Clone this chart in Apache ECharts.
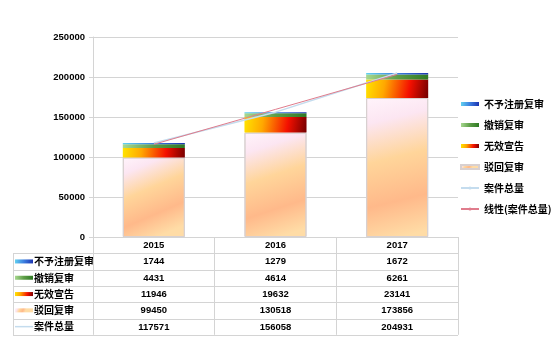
<!DOCTYPE html>
<html>
<head>
<meta charset="utf-8">
<script src="https://cdn.jsdelivr.net/npm/echarts@6/dist/echarts.min.js"></script>
<style>
html, body { margin: 0; padding: 0; background: #ffffff; }
#chart { width: 558px; height: 349px; }
</style>
</head>
<body>
<div id="chart"></div>
<script>
// Trademark review cases by year
const years = ['2015', '2016', '2017'];
const refusalReview = [1744, 1279, 1672];        // 不予注册复审
const revocationReview = [4431, 4614, 6261];     // 撤销复审
const invalidation = [11946, 19632, 23141];      // 无效宣告
const rejectionReview = [99450, 130518, 173856]; // 驳回复审
const totalCases = [117571, 156058, 204931];     // 案件总量
const totalTrend = [115840, 159520, 203200];     // 线性(案件总量)
const yTicks = { min: 0, max: 250000, interval: 50000 };

const names = ['不予注册复审', '撤销复审', '无效宣告', '驳回复审', '案件总量', '线性(案件总量)'];

const G = echarts.graphic.LinearGradient;
const fills = {
  refusal: new G(0, 0, 1, 0.4, [
    { offset: 0, color: '#62d2f0' }, { offset: 0.5, color: '#3c7ee0' }, { offset: 1, color: '#1c34b0' }
  ]),
  revocation: new G(0, 0, 1, 0.4, [
    { offset: 0, color: '#a8d890' }, { offset: 0.5, color: '#5e9e48' }, { offset: 1, color: '#2f7a24' }
  ]),
  invalid: new G(0, 0, 1, 0.6, [
    { offset: 0, color: '#ffe400' }, { offset: 0.3, color: '#ffa800' },
    { offset: 0.7, color: '#f41000' }, { offset: 1, color: '#7a0000' }
  ]),
  rejection: new G(0, 0, 0.55, 1, [
    { offset: 0, color: '#fff4fb' }, { offset: 0.18, color: '#fce6f2' },
    { offset: 0.45, color: '#ffd59a' }, { offset: 0.75, color: '#ffb98a' }, { offset: 1, color: '#ffdca6' }
  ])
};
const totalColor = '#c4dcee';
const trendColor = '#e07c8c';

const tableRows = [refusalReview, revocationReview, invalidation, rejectionReview, totalCases];
const rowFills = [fills.refusal, fills.revocation, fills.invalid, fills.rejection, null];

const GRID = { left: 93, right: 100, top: 37, bottom: 112 };
const ROW_H = 16.3;
const numFont = { fontFamily: 'Liberation Sans, Arial, sans-serif', fontWeight: 'bold', fontSize: 9.5, color: '#000' };
const cjkFont = 'Noto Sans CJK SC, sans-serif';
const lineGray = '#d4d4d4';

// Header axis (years) plus one label-only axis per table row
const xAxes = [{
  type: 'category',
  data: years,
  axisLine: { show: true, lineStyle: { color: lineGray } },
  axisTick: { show: true, length: ROW_H * 6, lineStyle: { color: lineGray } },
  axisLabel: Object.assign({ margin: 3, lineHeight: 11 }, numFont),
  splitLine: { show: false }
}];
tableRows.forEach((vals, k) => {
  xAxes.push({
    type: 'category',
    data: years,
    position: 'bottom',
    offset: ROW_H * (k + 1),
    axisLine: { show: false },
    axisTick: { show: false },
    axisLabel: Object.assign({ margin: 3, lineHeight: 11, formatter: (v, i) => String(vals[i]) }, numFont)
  });
});

const barBase = { type: 'bar', stack: 'cases', barWidth: '51%', xAxisIndex: 0, z: 2 };

const option = {
  animation: false,
  backgroundColor: '#ffffff',
  grid: GRID,
  legend: {
    orient: 'vertical',
    left: 460,
    top: 97,
    padding: 0,
    itemWidth: 18,
    itemHeight: 4,
    itemGap: 7,
    textStyle: { fontFamily: cjkFont, fontWeight: 'bold', fontSize: 10, color: '#000', lineHeight: 14 },
    data: [
      { name: names[0], icon: 'rect' },
      { name: names[1], icon: 'rect' },
      { name: names[2], icon: 'rect' },
      { name: names[3], icon: 'rect' },
      { name: names[4] },
      { name: names[5] }
    ]
  },
  xAxis: xAxes,
  yAxis: {
    type: 'value',
    min: yTicks.min,
    max: yTicks.max,
    interval: yTicks.interval,
    axisLine: { show: true, lineStyle: { color: lineGray } },
    axisTick: { show: true, length: 4, lineStyle: { color: lineGray } },
    axisLabel: Object.assign({ margin: 8, formatter: (v) => String(v) }, numFont),
    splitLine: { show: true, lineStyle: { color: lineGray, width: 1 } }
  },
  series: [
    Object.assign({ name: names[3], data: rejectionReview,
      itemStyle: { color: fills.rejection, borderColor: '#d8d0d0', borderWidth: 1 } }, barBase),
    Object.assign({ name: names[2], data: invalidation, itemStyle: { color: fills.invalid } }, barBase),
    Object.assign({ name: names[1], data: revocationReview, itemStyle: { color: fills.revocation } }, barBase),
    Object.assign({ name: names[0], data: refusalReview, itemStyle: { color: fills.refusal } }, barBase),
    {
      name: names[4], type: 'line', data: totalCases, xAxisIndex: 0,
      symbol: 'none', z: 3,
      lineStyle: { color: totalColor, width: 1.5 }, itemStyle: { color: totalColor }
    },
    {
      name: names[5], type: 'line', data: totalTrend, xAxisIndex: 0,
      symbol: 'none', z: 4,
      lineStyle: { color: trendColor, width: 1 }, itemStyle: { color: trendColor }
    }
  ]
};

const chart = echarts.init(document.getElementById('chart'), null, { renderer: 'canvas' });
chart.setOption(option);

// Data table frame and row headings
const baseY = chart.convertToPixel({ yAxisIndex: 0 }, 0);
const rightX = 558 - GRID.right;
const tableLeft = 13;
const elements = [];
for (let k = 1; k <= 6; k++) {
  const y = Math.round(baseY + ROW_H * k) + 0.5;
  elements.push({ type: 'line', shape: { x1: tableLeft, y1: y, x2: rightX, y2: y },
    style: { stroke: lineGray, lineWidth: 1 }, silent: true });
}
elements.push({ type: 'line', shape: { x1: tableLeft + 0.5, y1: Math.round(baseY + ROW_H) + 0.5, x2: tableLeft + 0.5, y2: Math.round(baseY + ROW_H * 6) + 0.5 },
  style: { stroke: lineGray, lineWidth: 1 }, silent: true });
tableRows.forEach((vals, k) => {
  const cy = baseY + ROW_H * (k + 1.5);
  if (rowFills[k]) {
    elements.push({ type: 'rect', shape: { x: tableLeft + 2, y: cy - 2, width: 18, height: 4 },
      style: { fill: rowFills[k] }, silent: true });
  } else {
    elements.push({ type: 'line', shape: { x1: tableLeft + 2, y1: cy, x2: tableLeft + 20, y2: cy },
      style: { stroke: totalColor, lineWidth: 1.5 }, silent: true });
  }
  elements.push({ type: 'text', x: tableLeft + 21, y: cy,
    style: { text: names[k], fontFamily: cjkFont, fontWeight: 'bold', fontSize: 10, fill: '#000',
      verticalAlign: 'middle', align: 'left' }, silent: true });
});
chart.setOption({ graphic: { elements: elements } });
</script>
</body>
</html>
